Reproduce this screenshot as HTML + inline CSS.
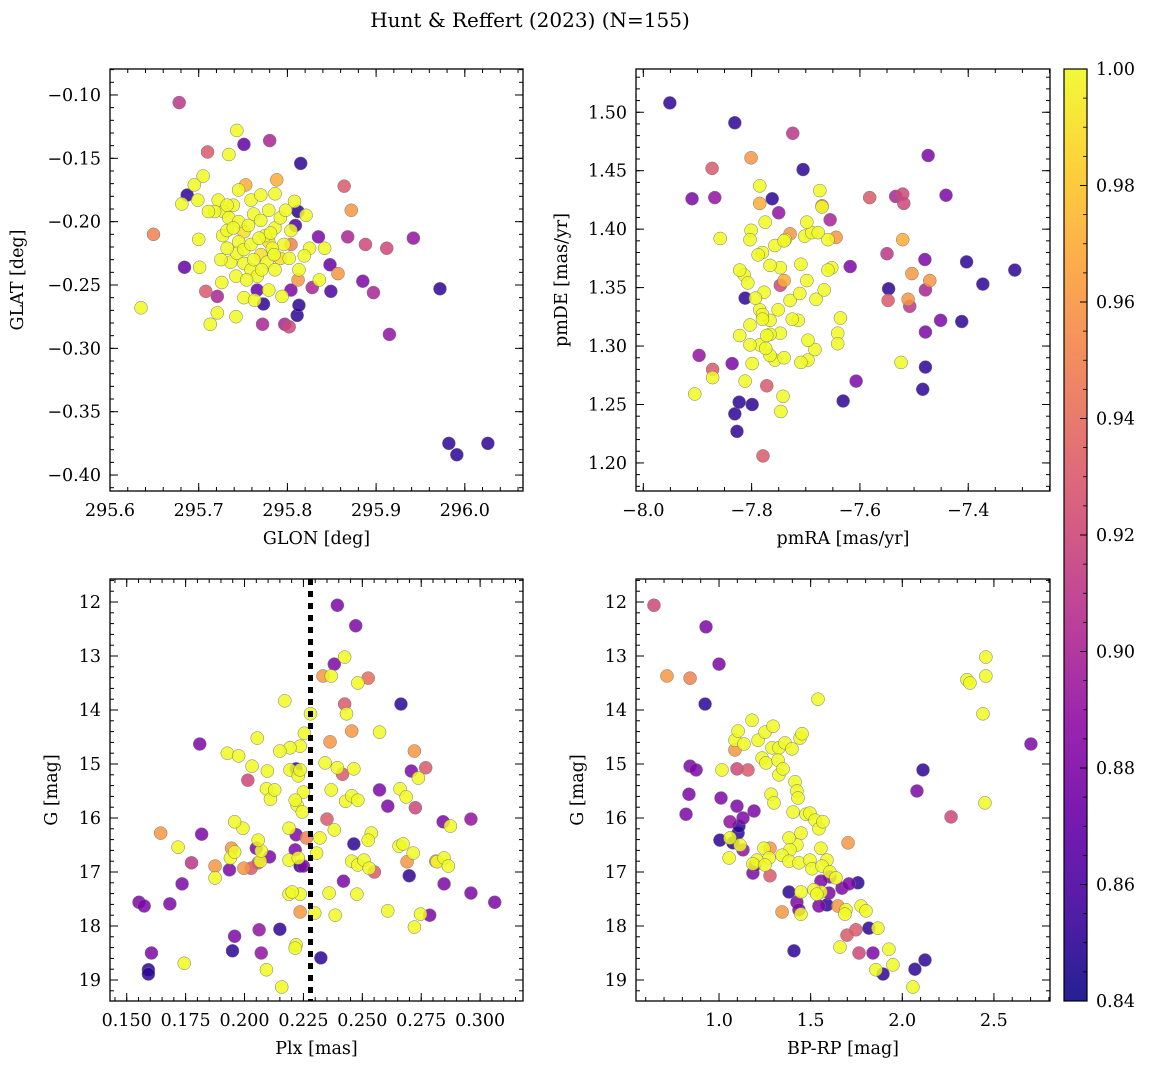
<!DOCTYPE html>
<html><head><meta charset="utf-8"><title>Hunt & Reffert (2023)</title>
<style>
html,body{margin:0;padding:0;background:#fff;}
svg{display:block;font-family:"DejaVu Serif","Liberation Serif",serif;}
</style></head>
<body>
<svg id="fig" width="1149" height="1068" viewBox="0 0 1149 1068" xmlns="http://www.w3.org/2000/svg">
<text x="530" y="27" font-size="20" text-anchor="middle">Hunt &amp; Reffert (2023) (N=155)</text>
</svg>
<script>
// ---- Panel 1: GLON vs GLAT ----
const tlGlon=[295.678,295.743,295.751,295.780,295.815,295.710,295.734,295.705,295.687,295.681,295.699,295.753,295.788,295.812,295.864,295.872,295.649,295.635,295.684,295.701,295.708,295.713,295.721,295.721,295.742,295.773,295.772,295.797,295.802,295.811,295.813,295.804,295.812,295.804,295.809,295.835,295.848,295.828,295.849,295.857,295.868,295.888,295.912,295.942,295.885,295.897,295.915,295.972,295.982,295.991,296.026,295.766,
295.722,295.728,295.734,295.739,295.745,295.751,295.756,295.762,295.770,295.775,295.779,295.786,295.792,295.796,295.802,295.745,295.736,295.743,295.751,295.759,295.766,295.770,295.777,295.783,295.759,295.770,295.779,295.798,295.808,295.821,295.825,295.819,295.813,295.732,295.745,295.727,295.718,295.711,295.732,295.739,295.751,295.759,295.771,295.786,295.804,295.792,295.836,295.842,295.725,295.768,295.700,295.726,295.742,295.754,295.785,295.695,295.786,295.762,295.751,295.779,295.763,295.794,295.781,295.732];
const tlGlat=[-0.106,-0.128,-0.139,-0.136,-0.154,-0.145,-0.147,-0.164,-0.179,-0.186,-0.183,-0.171,-0.167,-0.192,-0.172,-0.191,-0.210,-0.268,-0.236,-0.236,-0.255,-0.281,-0.272,-0.259,-0.275,-0.265,-0.281,-0.281,-0.283,-0.274,-0.266,-0.254,-0.246,-0.218,-0.203,-0.212,-0.234,-0.252,-0.255,-0.241,-0.212,-0.218,-0.221,-0.213,-0.247,-0.256,-0.289,-0.253,-0.375,-0.384,-0.375,-0.254,
-0.183,-0.192,-0.197,-0.187,-0.200,-0.208,-0.203,-0.194,-0.199,-0.211,-0.216,-0.205,-0.197,-0.218,-0.229,-0.216,-0.232,-0.225,-0.233,-0.238,-0.243,-0.226,-0.232,-0.221,-0.183,-0.179,-0.191,-0.191,-0.184,-0.195,-0.221,-0.227,-0.238,-0.187,-0.175,-0.211,-0.192,-0.192,-0.207,-0.205,-0.222,-0.218,-0.238,-0.238,-0.207,-0.229,-0.246,-0.221,-0.230,-0.213,-0.214,-0.248,-0.243,-0.246,-0.226,-0.171,-0.178,-0.230,-0.260,-0.254,-0.262,-0.259,-0.209,-0.221];
const tlProb=[0.91,1.0,0.87,0.90,0.85,0.93,1.0,1.0,0.85,1.0,1.0,0.97,0.97,0.85,0.93,0.96,0.95,1.0,0.87,1.0,0.93,1.0,1.0,0.90,1.0,0.85,0.90,0.90,0.92,0.85,0.85,0.88,0.96,0.95,0.86,0.88,0.87,0.90,0.86,0.96,0.90,0.92,0.92,0.89,0.88,0.90,0.89,0.85,0.85,0.85,0.85,0.87,
1,1,1,1,1,0.99,1,1,1,1,0.99,1,1,1,1,1,1,1,1,1,1,0.99,1,1,1,1,1,1,1,1,1,1,1,1,1,1,1,1,1,1,1,1,1,1,1,0.99,1,1,1,1,1,1,1,1,1,1,1,1,1,1,1,1,1,1];

// ---- Panel 2: pmRA vs pmDE ----
const trPmra=[-7.951,-7.831,-7.724,-7.705,-7.474,-7.873,-7.801,-7.910,-7.868,-7.858,-7.785,-7.762,-7.750,-7.674,-7.670,-7.655,-7.582,-7.534,-7.521,-7.519,-7.441,-7.521,-7.550,-7.618,-7.480,-7.403,-7.373,-7.314,-7.412,-7.479,-7.451,-7.479,-7.471,-7.504,-7.511,-7.548,-7.547,-7.508,-7.524,-7.479,-7.484,-7.631,-7.636,-7.641,-7.641,-7.607,-7.757,-7.779,-7.827,-7.831,-7.799,-7.823,-7.772,-7.746,-7.742,-7.905,-7.872,-7.872,-7.897,-7.836,-7.822,-7.803,-7.766,-7.785,-7.729,-7.711,-7.698,-7.681,-7.666,-7.652,-7.659,-7.709,-7.702,-7.689,-7.677,-7.659,-7.644,-7.738,-7.757,-7.747,-7.740,-7.777,-7.747,-7.740,-7.729,-7.698,-7.670,-7.785,-7.775,-7.801,-7.803,-7.780,-7.766,-7.788,-7.814,-7.822,-7.807,-7.793,-7.751,-7.714,-7.725,-7.747,-7.766,-7.785,-7.766,-7.740,-7.696,-7.683,-7.696,-7.709,-7.812,-7.799,-7.803,-7.772,-7.774,-7.812,-7.780,-7.780];
const trPmde=[1.508,1.491,1.482,1.451,1.463,1.452,1.461,1.426,1.427,1.392,1.437,1.426,1.414,1.433,1.420,1.408,1.427,1.428,1.430,1.422,1.429,1.391,1.379,1.368,1.374,1.372,1.353,1.365,1.321,1.348,1.322,1.312,1.356,1.362,1.340,1.339,1.349,1.334,1.286,1.282,1.263,1.253,1.324,1.311,1.302,1.270,1.288,1.206,1.227,1.242,1.250,1.252,1.266,1.244,1.257,1.259,1.280,1.273,1.292,1.285,1.309,1.318,1.322,1.331,1.339,1.345,1.356,1.340,1.348,1.367,1.365,1.370,1.394,1.397,1.397,1.391,1.393,1.391,1.386,1.367,1.356,1.346,1.352,1.390,1.396,1.406,1.419,1.422,1.406,1.399,1.391,1.380,1.369,1.378,1.361,1.365,1.354,1.341,1.331,1.322,1.323,1.311,1.310,1.301,1.292,1.290,1.288,1.297,1.305,1.286,1.270,1.285,1.301,1.309,1.298,1.341,1.327,1.323,1.265];
const trProb=[0.85,0.85,0.91,0.85,0.88,0.93,0.96,0.88,0.89,1,1,0.85,0.89,1,0.96,0.90,0.93,0.90,0.92,0.92,0.88,0.97,0.91,0.88,0.88,0.85,0.85,0.85,0.85,0.90,0.88,0.88,0.96,0.96,0.96,0.93,0.85,0.91,1,0.85,0.85,0.85,1,1,1,0.88,1,0.93,0.85,0.85,0.85,0.85,0.93,1,1,1,0.93,1,0.89,0.88,1,1,1,1,1,1,1,1,1,1,1,1,1,1,1,1,0.96,1,1,1,0.97,1,0.92,1,0.96,1,1,0.97,1,1,1,1,1,1,1,1,1,1,1,1,1,1,1,1,1,1,1,1,1,1,1,1,1,1,1,0.85,1,1,1];

// ---- Panel 3: Plx vs G ----
const blPlx=[0.2394,0.2472,0.2381,0.2425,0.2333,0.2368,0.2481,0.2525,0.2664,0.2171,0.2425,0.2433,0.2280,0.1810,0.2455,0.2573,0.2363,0.2054,0.2254,0.2236,0.2193,0.2150,0.1927,0.1975,0.2032,0.2014,0.2097,0.2093,0.2110,0.2128,0.2219,0.2193,0.2228,0.2236,0.2250,0.2223,0.2245,0.2215,0.2342,0.2394,0.2416,0.2464,0.2368,0.2429,0.2455,0.2481,0.2573,0.2660,0.2721,0.2708,0.2738,0.2769,0.2686,0.2725,0.2608,0.2538,0.2525,0.2464,0.2381,0.2350,0.2320,0.2306,0.2219,0.2263,0.2215,0.2250,0.2236,0.2189,0.2189,0.2228,0.2106,0.2067,0.2058,0.2071,0.2050,0.2028,0.2058,0.1993,0.1958,0.1997,0.1940,0.1958,0.1945,0.1936,0.1875,0.1875,0.1775,0.1818,0.1718,0.1644,0.1735,0.1683,0.1552,0.1574,0.1605,0.1592,0.1592,0.1744,0.1958,0.1949,0.2062,0.2071,0.2093,0.2150,0.2158,0.2219,0.2215,0.2236,0.2236,0.2189,0.2202,0.2324,0.2298,0.2385,0.2359,0.2420,0.2455,0.2481,0.2507,0.2551,0.2529,0.2477,0.2608,0.2699,0.2656,0.2673,0.2690,0.2716,0.2812,0.2817,0.2847,0.2865,0.2874,0.2847,0.2747,0.2786,0.2721,0.2961,0.3062,0.2843,0.2961];
const blG=[12.06,12.44,13.15,13.02,13.37,13.37,13.50,13.41,13.89,13.83,13.89,14.07,14.07,14.63,14.39,14.41,14.59,14.52,14.43,14.67,14.70,14.76,14.80,14.85,15.04,15.30,15.13,15.46,15.65,15.48,15.09,15.11,15.22,15.11,15.52,15.76,15.89,15.67,14.98,15.07,15.19,15.09,15.48,15.69,15.59,15.67,15.48,15.46,14.76,15.13,15.26,15.07,15.61,15.81,15.78,16.28,16.41,16.48,16.22,16.02,16.37,16.65,16.31,16.37,16.59,16.89,16.89,16.19,16.78,16.74,16.72,16.80,16.83,16.61,16.56,16.93,16.41,16.19,16.07,16.93,16.74,16.63,16.56,16.96,16.89,17.11,16.83,16.30,16.54,16.28,17.22,17.59,17.56,17.63,18.50,18.81,18.89,18.69,18.19,18.46,18.07,18.50,18.81,18.06,19.13,18.35,18.41,17.74,17.41,17.41,17.37,18.59,17.76,17.80,17.39,17.17,16.80,16.87,16.78,17.00,16.93,17.41,17.72,17.07,16.52,16.48,16.81,16.65,16.80,16.81,16.74,16.89,16.15,17.22,17.78,17.80,18.02,17.39,17.56,16.07,16.02];
const blProb=[0.88,0.88,0.88,1,0.96,1,1,0.94,0.85,1,0.93,1,1,0.88,0.96,1,0.96,1,1,1,1,1,1,1,1,0.92,1,1,1,1,0.85,1,1,1,1,1,1,1,1,1,0.93,1,1,1,1,1,0.88,1,0.96,0.88,1,0.93,1,0.92,0.88,1,1,0.85,1,0.93,1,1,0.88,0.95,0.88,0.88,0.85,1,1,1,0.88,1,0.93,1,0.88,0.93,1,1,1,0.96,1,1,0.96,0.88,0.96,1,0.91,0.88,1,0.96,0.88,0.88,0.88,0.88,0.88,0.85,0.85,1,0.88,0.85,0.89,0.89,1,0.85,1,1,1,0.96,1,1,1,0.85,1,1,1,0.88,1,1,1,0.93,1,1,1,0.85,1,1,0.96,1,0.96,1,1,1,1,0.88,1,0.88,1,0.88,0.88,0.88,0.89];

// ---- Panel 4: BP-RP vs G ----
const brColor=[0.645,0.716,0.842,0.929,1.000,0.924,2.456,2.456,2.353,2.369,2.440,2.702,2.451,2.266,2.113,2.080,0.842,0.875,0.836,0.820,1.011,1.016,1.098,1.158,1.087,1.087,1.136,1.180,1.213,1.251,1.295,1.289,1.327,1.360,1.398,1.442,1.453,1.540,1.104,1.235,1.256,1.322,1.327,1.349,1.284,1.300,1.415,1.425,1.431,1.404,1.475,1.496,1.524,1.545,1.567,1.447,1.425,1.382,1.387,1.344,1.278,1.245,1.273,1.207,1.185,1.251,1.278,1.185,1.196,1.104,1.109,1.115,1.060,1.060,1.005,1.076,1.131,1.055,1.098,1.131,1.191,1.382,1.436,1.496,1.507,1.556,1.589,1.562,1.605,1.704,1.638,1.605,1.556,1.671,1.709,1.758,1.693,1.649,1.600,1.556,1.518,1.534,1.447,1.382,1.425,1.436,1.447,1.344,1.545,1.589,1.775,1.802,1.687,1.698,1.660,1.747,1.818,1.867,1.764,1.840,1.927,1.856,1.895,1.949,2.069,2.124,2.058,1.409];
const brG=[12.06,13.37,13.41,12.46,13.15,13.89,13.02,13.37,13.44,13.50,14.07,14.63,15.72,15.98,15.11,15.50,15.04,15.11,15.56,15.93,15.63,15.11,15.09,15.11,14.56,14.74,14.63,14.19,14.56,14.41,14.30,14.70,14.70,14.61,14.72,14.52,14.44,13.80,14.39,14.89,14.98,14.93,15.20,15.09,15.56,15.72,15.33,15.50,15.63,15.89,15.93,15.91,16.04,16.20,16.07,16.28,16.50,16.37,16.59,16.69,16.56,16.56,16.74,16.78,16.85,16.87,17.07,17.02,16.87,16.28,16.15,16.50,16.07,16.37,16.41,16.46,16.59,16.74,15.78,16.00,15.87,16.80,16.83,16.78,16.94,16.56,16.78,16.89,17.00,16.46,17.11,17.09,17.17,17.30,17.22,17.20,17.70,17.63,17.39,17.37,17.33,17.41,17.37,17.37,17.56,17.70,17.78,17.74,17.63,17.61,17.63,17.72,17.78,18.17,18.39,18.07,18.04,18.04,18.50,18.50,18.43,18.81,18.89,18.72,18.80,18.63,19.13,18.46];
const brProb=[0.92,0.96,0.95,0.88,0.88,0.85,1,1,1,1,1,0.88,1,0.92,0.85,0.88,0.88,0.88,0.88,0.88,0.88,1,0.92,0.93,1,0.96,1,1,1,1,1,1,1,1,1,1,1,1,1,1,1,1,1,1,1,1,1,1,1,1,1,1,1,1,1,1,1,1,1,1,0.96,1,1,1,1,1,0.93,0.88,0.88,0.85,0.85,1,0.89,1,0.85,0.85,0.89,1,0.88,0.88,0.88,1,1,1,1,1,1,1,1,0.96,1,0.88,0.88,0.88,0.88,0.85,1,0.96,0.88,1,1,1,1,0.85,0.88,0.88,1,0.96,0.88,0.85,1,1,1,0.93,1,0.93,0.85,1,0.92,0.88,1,1,0.85,1,0.85,0.85,1,0.85];

const plxLine=0.228;
const cbTicks=[0.84,0.86,0.88,0.90,0.92,0.94,0.96,0.98,1.00];

const NS="http://www.w3.org/2000/svg";
const svg=document.getElementById('fig');
const FS=17.5;
function mk(tag,attrs,parent){const e=document.createElementNS(NS,tag);for(const k in attrs)e.setAttribute(k,attrs[k]);(parent||svg).appendChild(e);return e;}
const stops=[[13,8,135],[65,4,157],[106,0,168],[143,13,164],[177,42,144],[204,71,120],[225,100,98],[242,132,75],[252,166,54],[252,206,37],[240,249,33]];
function plasma(t){t=Math.max(0,Math.min(1,t));const f=t*10,i=Math.min(9,Math.floor(f)),r=f-i;const a=stops[i],b=stops[i+1];return 'rgb('+a.map((v,k)=>Math.round(v+(b[k]-v)*r)).join(',')+')';}
function pcol(p){return plasma((p-0.84)/0.16);}

function panel(cfg){
  const {name,x0,y0,x1,y1,xmin,xmax,ymin,ymax,yInvert,xMaj,xMin,yMaj,yMin,xDec,yDec,xs,ys,ps,xlabel,ylabel,ylabX}=cfg;
  const g=mk('g',{});
  
  
  const sx=v=>x0+(v-xmin)/(xmax-xmin)*(x1-x0);
  const sy=v=>yInvert? y0+(v-ymin)/(ymax-ymin)*(y1-y0) : y1-(v-ymin)/(ymax-ymin)*(y1-y0);
  const cid='clip-'+name;
  const cp=mk('clipPath',{id:cid},g);mk('rect',{x:x0,y:y0,width:x1-x0,height:y1-y0},cp);
  const pts=mk('g',{'clip-path':'url(#'+cid+')'},g);
  
  
  const order=ps.map((p,i)=>i).sort((a,b)=>ps[a]-ps[b]);
  for(const i of order){
    const c=mk('circle',{cx:sx(xs[i]),cy:sy(ys[i]),r:6.5,fill:pcol(ps[i]),'fill-opacity':0.85,stroke:'#777','stroke-width':0.5},pts);
    
    
  }
  if(cfg.vline!==undefined){
    const l=mk('line',{x1:sx(cfg.vline),x2:sx(cfg.vline),y1:y0,y2:y1,stroke:'#000','stroke-width':5,'stroke-dasharray':'6,6'},g);
    
    
  }
  const frame=mk('rect',{x:x0,y:y0,width:x1-x0,height:y1-y0,fill:'none',stroke:'#000','stroke-width':1.3},g);
  
  
  const tk=mk('g',{stroke:'#000','stroke-width':1},g);
  const eps=1e-9;
  function ticksRange(lo,hi,step){const a=[];let s=Math.ceil((lo-eps)/step);for(let v=s*step;v<=hi+eps;v=(++s)*step)a.push(+v.toFixed(6));return a;}
  ticksRange(Math.min(xmin,xmax),Math.max(xmin,xmax),xMin).forEach(v=>{const X=sx(v);mk('line',{x1:X,x2:X,y1:y1,y2:y1-4},tk);mk('line',{x1:X,x2:X,y1:y0,y2:y0+4},tk);});
  ticksRange(ymin,ymax,yMin).forEach(v=>{const Y=sy(v);mk('line',{x1:x0,x2:x0+4,y1:Y,y2:Y},tk);mk('line',{x1:x1,x2:x1-4,y1:Y,y2:Y},tk);});
  const fmt=(v,d)=>(v<0?'\u2212':'')+Math.abs(v).toFixed(d);
  ticksRange(xmin,xmax,xMaj).forEach(v=>{const X=sx(v);mk('line',{x1:X,x2:X,y1:y1,y2:y1-8},tk);mk('line',{x1:X,x2:X,y1:y0,y2:y0+8},tk);
    const t=mk('text',{x:X,y:y1+25,'font-size':FS,'text-anchor':'middle'},g);t.textContent=fmt(v,xDec);
    
    });
  ticksRange(ymin,ymax,yMaj).forEach(v=>{const Y=sy(v);mk('line',{x1:x0,x2:x0+8,y1:Y,y2:Y},tk);mk('line',{x1:x1,x2:x1-8,y1:Y,y2:Y},tk);
    const t=mk('text',{x:x0-9,y:Y+6,'font-size':FS,'text-anchor':'end'},g);t.textContent=fmt(v,yDec);
    
    });
  const xl=mk('text',{x:(x0+x1)/2,y:y1+53,'font-size':FS,'text-anchor':'middle'},g);xl.textContent=xlabel;
  
  
  const yc=(y0+y1)/2;
  const yl=mk('text',{x:ylabX,y:yc,'font-size':FS,'text-anchor':'middle',transform:'rotate(-90 '+ylabX+' '+yc+')'},g);yl.textContent=ylabel;
  
  
}

panel({name:'glon-glat-panel',x0:110,y0:69,x1:523,y1:491,xmin:295.6,xmax:296.0656,ymin:-0.4126,ymax:-0.0795,xMaj:0.1,xMin:0.02,yMaj:0.05,yMin:0.01,xDec:1,yDec:2,xs:tlGlon,ys:tlGlat,ps:tlProb,xlabel:'GLON [deg]',ylabel:'GLAT [deg]',ylabX:23});
panel({name:'pm-panel',x0:636,y0:69,x1:1050,y1:491,xmin:-8.0135,xmax:-7.249,ymin:1.176,ymax:1.537,xMaj:0.2,xMin:0.05,yMaj:0.05,yMin:0.01,xDec:1,yDec:2,xs:trPmra,ys:trPmde,ps:trProb,xlabel:'pmRA [mas/yr]',ylabel:'pmDE [mas/yr]',ylabX:567});
panel({name:'plx-g-panel',x0:110,y0:579,x1:523,y1:1001,xmin:0.1429,xmax:0.3182,ymin:11.574,ymax:19.389,yInvert:true,xMaj:0.025,xMin:0.005,yMaj:1,yMin:0.2,xDec:3,yDec:0,xs:blPlx,ys:blG,ps:blProb,xlabel:'Plx [mas]',ylabel:'G [mag]',ylabX:57,vline:plxLine});
panel({name:'cmd-panel',x0:636,y0:579,x1:1050,y1:1001,xmin:0.547,xmax:2.806,ymin:11.574,ymax:19.389,yInvert:true,xMaj:0.5,xMin:0.1,yMaj:1,yMin:0.2,xDec:1,yDec:0,xs:brColor,ys:brG,ps:brProb,xlabel:'BP-RP [mag]',ylabel:'G [mag]',ylabX:583});

// colorbar
(function(){
  const x0=1064,x1=1087,y0=69,y1=1001,vmin=0.84,vmax=1.0;
  const g=mk('g',{});
  
  
  const defs=mk('defs',{},g);
  const lg=mk('linearGradient',{id:'cbgrad',x1:0,y1:1,x2:0,y2:0},defs);
  for(let i=0;i<=20;i++){mk('stop',{offset:(i/20),'stop-color':plasma(i/20),'stop-opacity':0.9},lg);}
  mk('rect',{x:x0,y:y0,width:x1-x0,height:y1-y0,fill:'url(#cbgrad)',stroke:'#000','stroke-width':1.2},g);
  const sy=v=>y1-(v-vmin)/(vmax-vmin)*(y1-y0);
  cbTicks.forEach(v=>{const Y=sy(v);mk('line',{x1:x1,x2:x1-7,y1:Y,y2:Y,stroke:'#000','stroke-width':1},g);
    const t=mk('text',{x:x1+9,y:Y+6,'font-size':FS},g);t.textContent=v.toFixed(2);
    
    });
  for(let v=vmin;v<=vmax+1e-9;v+=0.005){const Y=sy(v);mk('line',{x1:x1,x2:x1-4,y1:Y,y2:Y,stroke:'#000','stroke-width':0.8},g);}
})();
</script>
</body></html>
